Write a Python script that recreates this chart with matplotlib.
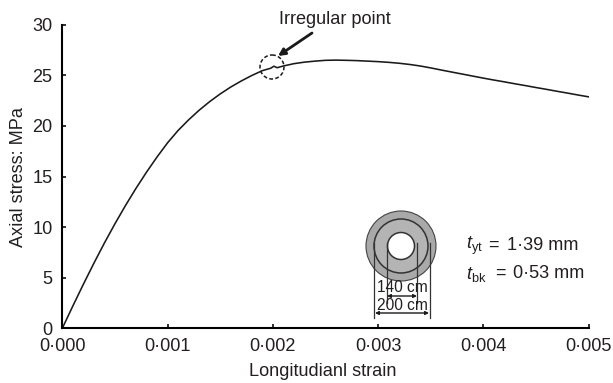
import matplotlib
matplotlib.use('Agg')
import matplotlib.pyplot as plt
from matplotlib.patches import Circle

plt.rcParams['font.family'] = ['Liberation Sans', 'DejaVu Sans']
plt.rcParams['mathtext.fontset'] = 'custom'
plt.rcParams['mathtext.rm'] = 'Liberation Sans'
plt.rcParams['mathtext.it'] = 'Liberation Sans:italic'

strain = [0, 0.0001, 0.0002, 0.0003, 0.0004, 0.0005, 0.0006, 0.0007, 0.0008, 0.0009, 0.001,
          0.0011, 0.0012, 0.0013, 0.0014, 0.0015, 0.0016, 0.0017, 0.0018, 0.0019, 0.00198,
          0.00201, 0.00204, 0.0021, 0.0022, 0.0023, 0.0024, 0.0025, 0.0026, 0.0027, 0.0028,
          0.0029, 0.003, 0.0031, 0.0032, 0.0033, 0.0034, 0.0035, 0.0036, 0.0037, 0.0038, 0.0039,
          0.004, 0.0041, 0.0042, 0.0043, 0.0044, 0.0045, 0.0046, 0.0047, 0.0048, 0.0049, 0.005]
stress = [0, 2.2, 4.35, 6.43, 8.43, 10.33, 12.13, 13.83, 15.43, 16.93, 18.33,
          19.55, 20.6, 21.55, 22.4, 23.16, 23.84, 24.44, 24.98, 25.46, 25.7,
          25.9, 25.75, 25.92, 26.15, 26.3, 26.4, 26.48, 26.5, 26.48, 26.45,
          26.4, 26.35, 26.28, 26.19, 26.07, 25.92, 25.73, 25.52, 25.32, 25.12, 24.92,
          24.72, 24.53, 24.35, 24.16, 23.98, 23.79, 23.61, 23.42, 23.24, 23.05, 22.87]
x_ticks = [0, 0.001, 0.002, 0.003, 0.004, 0.005]
x_labels = ['0·000', '0·001', '0·002', '0·003', '0·004', '0·005']
y_ticks = [0, 5, 10, 15, 20, 25, 30]

W, H = 613, 383
TEXT = '#231f20'
FS = 13.1

fig = plt.figure(figsize=(W / 100, H / 100), dpi=100)
ax = fig.add_axes([62.3 / W, 1 - 328.3 / H, 526.4 / W, 303.6 / H])
ax.plot(strain, stress, color='#1a1a1a', lw=1.15)
ax.set_xlim(0, 0.005)
ax.set_ylim(0, 30)
ax.set_xticks(x_ticks, x_labels)
ax.set_yticks(y_ticks)
ax.tick_params(axis='x', direction='in', length=3, width=1.3, labelsize=FS, colors=TEXT, pad=7)
ax.tick_params(axis='y', direction='in', length=3, width=1.3, labelsize=FS, colors=TEXT, pad=7)
ax.spines['top'].set_visible(False)
ax.spines['right'].set_visible(False)
ax.spines['left'].set_linewidth(1.5)
ax.spines['bottom'].set_linewidth(1.5)

# overlay in pixel coordinates for the labels, annotation and section sketch
ov = fig.add_axes([0, 0, 1, 1])
ov.set_xlim(0, W)
ov.set_ylim(H, 0)
ov.axis('off')

ov.text(322.5, 371, 'Longitudianl strain', fontsize=FS, color=TEXT, ha='center', va='center')
ov.text(19, 177, 'Axial stress: MPa', fontsize=FS, color=TEXT, ha='center', va='center', rotation=90)

ov.add_patch(Circle((272, 67), 12, fill=False, ec='#1a1a1a', lw=1.1, ls=(0, (2.5, 1.5))))
ov.annotate('', xy=(278, 56), xytext=(312, 33),
            arrowprops=dict(arrowstyle='-|>', color='#1a1a1a', lw=2, mutation_scale=10,
                            shrinkA=0, shrinkB=0))
ov.text(335, 19, 'Irregular point', fontsize=FS, color=TEXT, ha='center', va='center')

ov.add_patch(Circle((401, 246), 35, fc='#a9a9a9', ec='#444444', lw=0.8))
ov.add_patch(Circle((401, 246), 27, fc='#b4b4b4', ec='#333333', lw=1.1))
ov.add_patch(Circle((401, 246), 13.5, fc='white', ec='#333333', lw=1.1))
ov.plot([374, 374], [243, 318], color='#333333', lw=0.9)
ov.plot([430, 430], [243, 318], color='#333333', lw=0.9)
ov.plot([387, 387], [243, 303], color='#333333', lw=0.9)
ov.plot([417, 417], [243, 303], color='#333333', lw=0.9)
for x0, x1, y in [(387, 417, 296), (375, 429, 313)]:
    ov.annotate('', xy=(x0, y), xytext=(x1, y),
                arrowprops=dict(arrowstyle='<|-|>', color='#1a1a1a', lw=1, mutation_scale=5,
                                shrinkA=0, shrinkB=0))
ov.text(402, 288, '140 cm', fontsize=11.2, color=TEXT, ha='center', va='center')
ov.text(402, 306, '200 cm', fontsize=11.2, color=TEXT, ha='center', va='center')
ov.text(466, 246, r'$t_{\mathrm{yt}}$', fontsize=FS, color=TEXT, va='center')
ov.text(488, 245, '=', fontsize=FS, color=TEXT, va='center')
ov.text(507, 245, '1·39 mm', fontsize=FS, color=TEXT, va='center')
ov.text(466, 274, r'$t_{\mathrm{bk}}$', fontsize=FS, color=TEXT, va='center')
ov.text(495, 273, '=', fontsize=FS, color=TEXT, va='center')
ov.text(513, 273, '0·53 mm', fontsize=FS, color=TEXT, va='center')

fig.savefig('out.png', dpi=100)
